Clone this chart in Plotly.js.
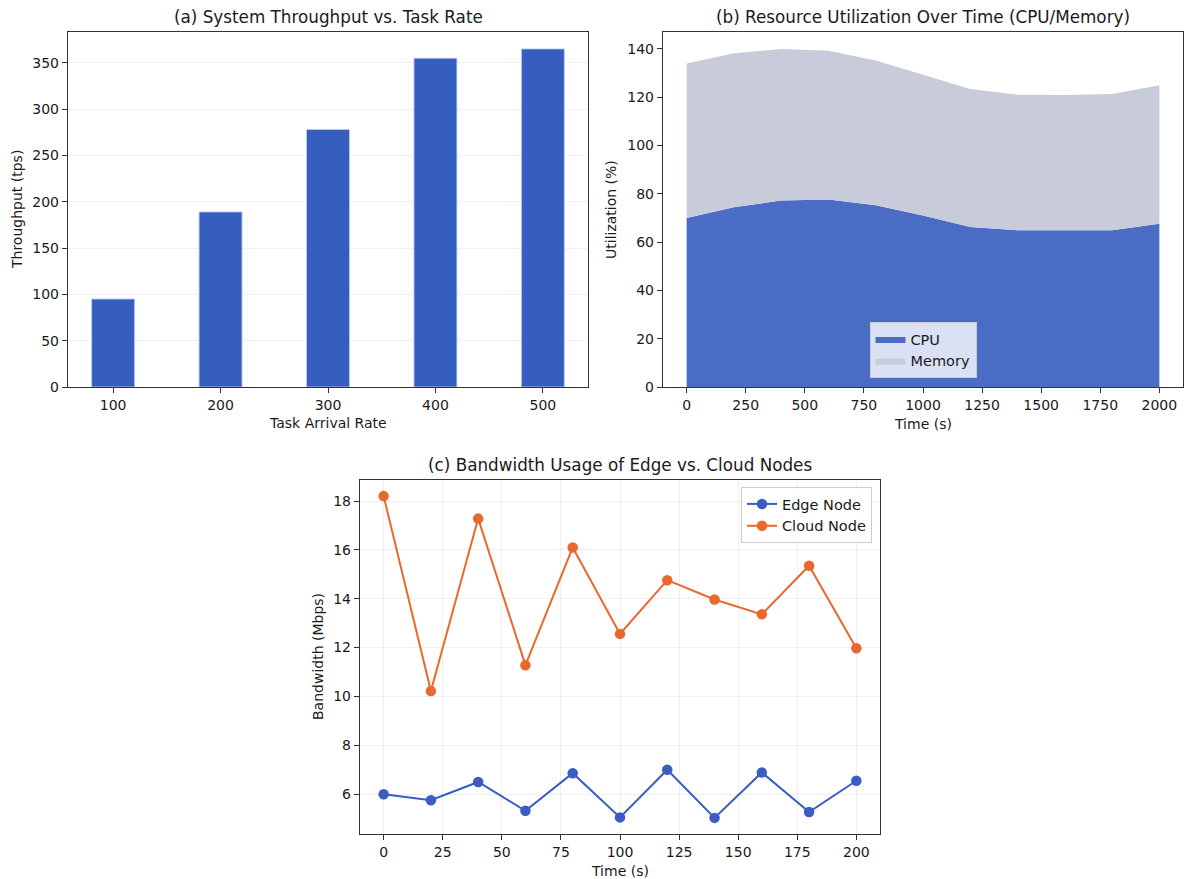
<!DOCTYPE html>
<html>
<head>
<meta charset="utf-8">
<script src="https://cdn.plot.ly/plotly-3.0.1.min.js"></script>
<style>html,body{margin:0;padding:0;background:#fff;}#chart{width:1184px;height:879px;}</style>
</head>
<body>
<div id="chart"></div>
<script>
// (a) throughput
const rates = ['100', '200', '300', '400', '500'];
const throughput = [95, 189, 278, 355, 365];
// (b) resource utilization
const timeB = [0, 200, 400, 600, 800, 1000, 1200, 1400, 1600, 1800, 2000];
const cpu = [70.0, 74.4, 77.2, 77.6, 75.3, 71.0, 66.3, 64.9, 64.9, 64.9, 67.6];
const memory = [64.0, 63.8, 62.8, 61.6, 59.9, 58.3, 57.1, 56.1, 56.0, 56.4, 57.3];
// (c) bandwidth
const timeC = [0, 20, 40, 60, 80, 100, 120, 140, 160, 180, 200];
const edge = [6.0, 5.75, 6.5, 5.32, 6.86, 5.05, 7.0, 5.03, 6.89, 5.27, 6.55];
const cloud = [18.2, 10.22, 17.28, 11.28, 16.1, 12.56, 14.76, 13.97, 13.36, 15.35, 11.97];

const W = 1184, H = 879;
const px = v => v / W;
const py = v => 1 - v / H;
const FONT = 'DejaVu Sans, sans-serif';
const TXT = '#1a1a1a';
const tickF = {family: FONT, size: 14, color: TXT};
const labF = {family: FONT, size: 14, color: TXT};
const titF = {family: FONT, size: 16.8, color: TXT};
const legF = {family: FONT, size: 14.5, color: TXT};

const traces = [
  {type: 'bar', x: rates, y: throughput, width: 0.4, xaxis: 'x', yaxis: 'y',
   marker: {color: '#365ebe', line: {color: 'rgba(190,205,240,0.9)', width: 1}}, showlegend: false},
  {type: 'scatter', x: timeB, y: cpu, name: 'CPU', stackgroup: 'one', xaxis: 'x2', yaxis: 'y2',
   mode: 'lines', line: {width: 0, color: '#4a6cc5'}, fillcolor: '#4a6cc5', legend: 'legend'},
  {type: 'scatter', x: timeB, y: memory, name: 'Memory', stackgroup: 'one', xaxis: 'x2', yaxis: 'y2',
   mode: 'lines', line: {width: 0, color: '#c8cbda'}, fillcolor: '#c8cbda', legend: 'legend'},
  {type: 'scatter', x: timeC, y: edge, name: 'Edge Node', xaxis: 'x3', yaxis: 'y3', mode: 'lines+markers',
   line: {color: '#3a5cc3', width: 2}, marker: {color: '#3a5cc3', size: 10.5}, legend: 'legend2'},
  {type: 'scatter', x: timeC, y: cloud, name: 'Cloud Node', xaxis: 'x3', yaxis: 'y3', mode: 'lines+markers',
   line: {color: '#ea672d', width: 2}, marker: {color: '#ea672d', size: 10.5}, legend: 'legend2'}
];

function ax(extra) {
  return Object.assign({
    showline: true, mirror: true, linecolor: '#333', linewidth: 1.2,
    ticks: 'outside', ticklen: 5, tickcolor: '#333', tickwidth: 1,
    tickfont: tickF, zeroline: false, showgrid: false, fixedrange: true
  }, extra);
}

const aY = [32, 387], cY = [480, 834];
const layout = {
  width: W, height: H, margin: {l: 0, r: 0, t: 0, b: 0},
  paper_bgcolor: '#fff', plot_bgcolor: '#fff',
  font: {family: FONT, color: TXT},
  xaxis: ax({domain: [px(68), px(588)], anchor: 'y', type: 'category', range: [-0.42, 4.42]}),
  yaxis: ax({domain: [py(aY[1]), py(aY[0])], anchor: 'x', range: [0, 383.25], dtick: 50,
             showgrid: true, gridcolor: 'rgba(0,0,0,0.06)'}),
  xaxis2: ax({domain: [px(663), px(1183)], anchor: 'y2', range: [-100, 2100], dtick: 250}),
  yaxis2: ax({domain: [py(aY[1]), py(aY[0])], anchor: 'x2', range: [0, 147], dtick: 20}),
  xaxis3: ax({domain: [px(360), px(880)], anchor: 'y3', range: [-10, 210], dtick: 25,
              showgrid: true, gridcolor: 'rgba(0,0,0,0.06)'}),
  yaxis3: ax({domain: [py(cY[1]), py(cY[0])], anchor: 'x3', range: [4.37, 18.86], dtick: 2,
              showgrid: true, gridcolor: 'rgba(0,0,0,0.06)'}),
  legend: {x: px(923), y: py(378), xanchor: 'center', yanchor: 'bottom',
           bgcolor: 'rgba(255,255,255,0.8)', bordercolor: '#cccccc', borderwidth: 1,
           font: legF, tracegroupgap: 0, traceorder: 'normal'},
  legend2: {x: px(872), y: py(487), xanchor: 'right', yanchor: 'top',
            bgcolor: 'rgba(255,255,255,0.8)', bordercolor: '#cccccc', borderwidth: 1,
            font: legF},
  annotations: [
    {text: '(a) System Throughput vs. Task Rate', x: px(328), y: py(aY[0]), xref: 'paper', yref: 'paper',
     xanchor: 'center', yanchor: 'bottom', yshift: 3, showarrow: false, font: titF},
    {text: '(b) Resource Utilization Over Time (CPU/Memory)', x: px(923), y: py(aY[0]), xref: 'paper', yref: 'paper',
     xanchor: 'center', yanchor: 'bottom', yshift: 3, showarrow: false, font: titF},
    {text: '(c) Bandwidth Usage of Edge vs. Cloud Nodes', x: px(620), y: py(cY[0]), xref: 'paper', yref: 'paper',
     xanchor: 'center', yanchor: 'bottom', yshift: 3, showarrow: false, font: titF},
    {text: 'Task Arrival Rate', x: px(328), y: py(423), xref: 'paper', yref: 'paper',
     xanchor: 'center', yanchor: 'middle', showarrow: false, font: labF},
    {text: 'Time (s)', x: px(923), y: py(424), xref: 'paper', yref: 'paper',
     xanchor: 'center', yanchor: 'middle', showarrow: false, font: labF},
    {text: 'Time (s)', x: px(620), y: py(871), xref: 'paper', yref: 'paper',
     xanchor: 'center', yanchor: 'middle', showarrow: false, font: labF},
    {text: 'Throughput (tps)', x: px(17), y: py(210), xref: 'paper', yref: 'paper', textangle: -90,
     xanchor: 'center', yanchor: 'middle', showarrow: false, font: labF},
    {text: 'Utilization (%)', x: px(611), y: py(210), xref: 'paper', yref: 'paper', textangle: -90,
     xanchor: 'center', yanchor: 'middle', showarrow: false, font: labF},
    {text: 'Bandwidth (Mbps)', x: px(318), y: py(657), xref: 'paper', yref: 'paper', textangle: -90,
     xanchor: 'center', yanchor: 'middle', showarrow: false, font: labF}
  ]
};

Plotly.newPlot('chart', traces, layout, {displayModeBar: false, staticPlot: true});
</script>
</body>
</html>
